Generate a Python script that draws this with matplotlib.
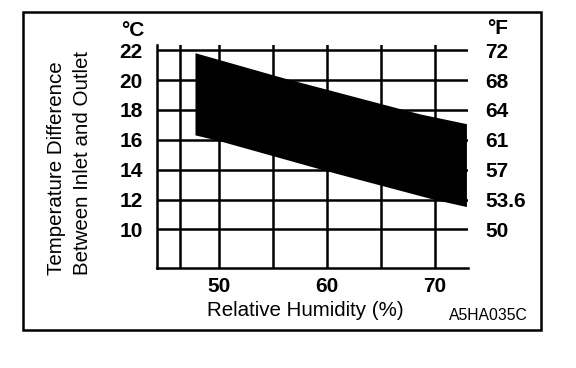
import matplotlib
matplotlib.use("Agg")
import matplotlib.pyplot as plt
from matplotlib.patches import Rectangle

plt.rcParams['font.family'] = ['Liberation Sans', 'DejaVu Sans']

# Band outline (relative humidity %, temperature difference degC)
top_rh = [47.8, 56.1, 68.7, 73.0]
top_temp = [21.8, 20.1, 17.7, 17.05]
bottom_rh = [47.8, 50.1, 60.0, 69.9, 73.0]
bottom_temp = [16.3, 15.9, 13.9, 12.0, 11.5]

# Axis ticks and labels
c_ticks = [10, 12, 14, 16, 18, 20, 22]
f_labels = ["50", "53.6", "57", "61", "64", "68", "72"]
rh_ticks = [50, 60, 70]
rh_grid_extra = [46.4, 55, 65]

W, H = 576, 368
fig = plt.figure(figsize=(W / 100, H / 100), dpi=100)

# Axes placed in pixel coordinates of the reference
left, right, top, bottom = 156.7, 468, 45, 268
ax = fig.add_axes([left / W, 1 - bottom / H, (right - left) / W, (bottom - top) / H])
ax.set_xlim(44.2, 73.1)
ax.set_ylim(7.42, 22.35)

# Band
xs = top_rh + bottom_rh[::-1]
ys = top_temp + bottom_temp[::-1]
ax.fill(xs, ys, color='black', lw=0, zorder=3)

# Grid
ax.set_xticks(rh_ticks)
ax.set_xticks(rh_grid_extra, minor=True)
ax.set_yticks(c_ticks)
ax.grid(True, which='both', color='black', lw=1.8)
ax.set_axisbelow(True)
ax.tick_params(which='both', length=0)
ax.tick_params(axis='y', pad=9.9, labelsize=15)
ax.tick_params(axis='x', pad=6.5, labelsize=15)
for lab in ax.get_xticklabels() + ax.get_yticklabels():
    lab.set_fontweight('bold')

for s in ['top', 'right']:
    ax.spines[s].set_visible(False)
for s in ['left', 'bottom']:
    ax.spines[s].set_linewidth(1.8)

# Fahrenheit labels on the right
ax2 = ax.twinx()
ax2.set_ylim(ax.get_ylim())
ax2.set_yticks(c_ticks)
ax2.set_yticklabels(f_labels, fontsize=15, fontweight='bold')
ax2.tick_params(length=0, pad=12.2)
for s in ax2.spines.values():
    s.set_visible(False)

# Unit labels
fig.text(133 / W, 1 - 30 / H, "°C", ha='center', va='center', fontsize=15, fontweight='bold')
fig.text(487 / W, 1 - 28.5 / H, "°F", ha='left', va='center', fontsize=15, fontweight='bold')

# Axis titles
fig.text(57 / W, 1 - 275 / H, "Temperature Difference", rotation=90,
         ha='center', va='bottom', fontsize=14.8)
fig.text(82 / W, 1 - 275 / H, "Between Inlet and Outlet", rotation=90,
         ha='center', va='bottom', fontsize=14.8)
fig.text(305 / W, 1 - 310 / H, "Relative Humidity (%)", ha='center', va='center', fontsize=14.8)
fig.text(488 / W, 1 - 315 / H, "A5HA035C", ha='center', va='center', fontsize=11.3)

# Outer frame
fig.patches.append(Rectangle((22.7 / W, 1 - 330 / H), (541 - 22.7) / W, (330 - 11.7) / H,
                             transform=fig.transFigure, fill=False, lw=1.8, ec='black'))

fig.savefig("out.png", dpi=100)
